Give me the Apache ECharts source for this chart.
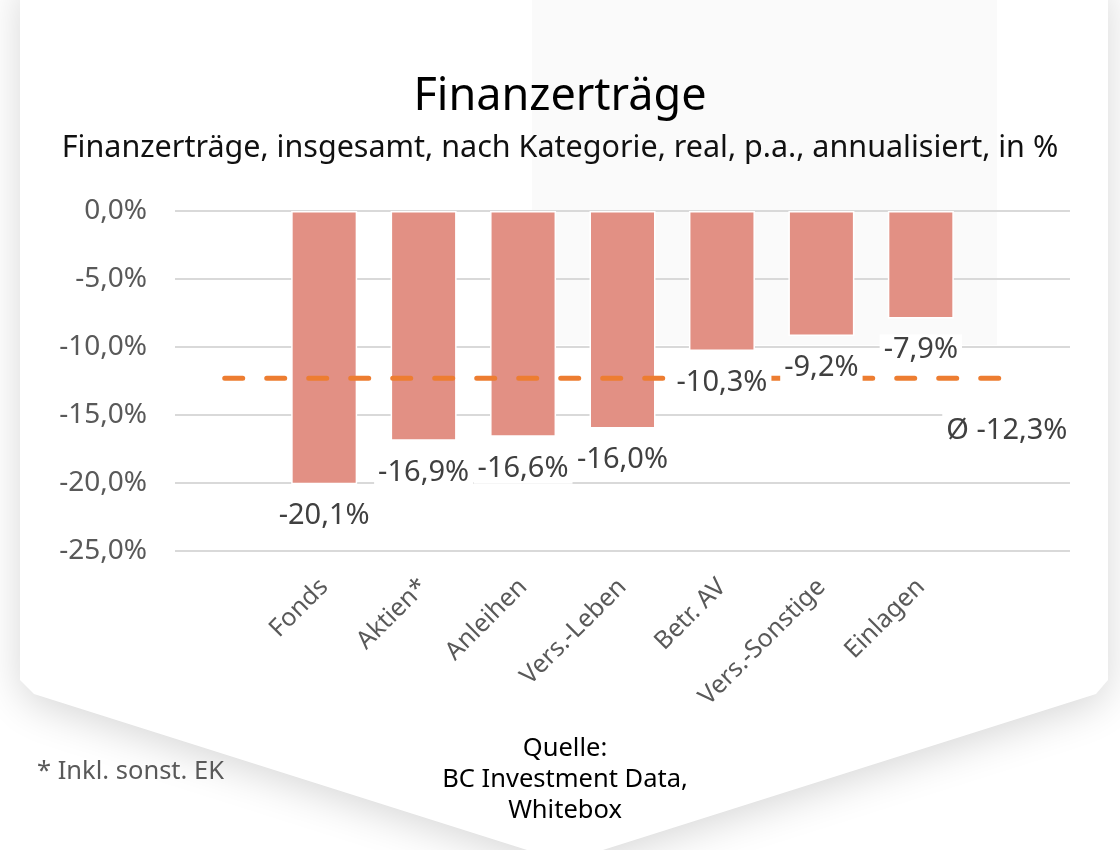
<!DOCTYPE html>
<html>
<head>
<meta charset="utf-8">
<script src="https://cdn.jsdelivr.net/npm/echarts@6/dist/echarts.min.js"></script>
<style>
  html, body { margin: 0; padding: 0; background: #fff; }
  #chart { width: 1120px; height: 850px; }
</style>
</head>
<body>
<div id="chart"></div>
<script>
// empty slots at both ends give the room the reference leaves left and right
const categories = ['', 'Fonds', 'Aktien*', 'Anleihen', 'Vers.-Leben', 'Betr. AV', 'Vers.-Sonstige', 'Einlagen', ''];
const returns = [null, -20.1, -16.9, -16.6, -16.0, -10.3, -9.2, -7.9, null];
const average = -12.3;
const yMin = -25, yMax = 0, yStep = 5;

const FONT = '"Noto Sans", sans-serif';
const pct = v => v.toFixed(1).replace('.', ',') + '%';

const chart = echarts.init(document.getElementById('chart'));

const option = {
  backgroundColor: '#fff',
  textStyle: { fontFamily: FONT },
  title: [
    {
      text: 'Finanzerträge',
      left: 'center', top: 70,
      textStyle: { fontSize: 45, fontWeight: 'normal', color: '#000', fontFamily: FONT }
    },
    {
      text: 'Finanzerträge, insgesamt, nach Kategorie, real, p.a., annualisiert, in %',
      left: 'center', top: 128,
      textStyle: { fontSize: 30.5, fontWeight: 'normal', color: '#111', fontFamily: FONT }
    }
  ],
  grid: { left: 175, right: 50, top: 211, bottom: 299 },
  xAxis: {
    type: 'category',
    data: categories,
    axisLine: { show: false },
    axisTick: { show: false },
    axisLabel: {
      interval: 0, rotate: 45, margin: 32,
      fontSize: 25, color: '#595959', fontFamily: FONT
    }
  },
  yAxis: {
    type: 'value',
    min: yMin, max: yMax, interval: yStep,
    axisLine: { show: false },
    axisTick: { show: false },
    axisLabel: { formatter: pct, fontSize: 28, color: '#595959', margin: 28, fontFamily: FONT },
    splitLine: { lineStyle: { color: '#d9d9d9', width: 2 } }
  },
  series: [
    {
      type: 'bar',
      data: returns,
      barWidth: 66,
      itemStyle: { color: '#E29084', borderColor: '#fff', borderWidth: 1.5 },
      z: 2,
      silent: true
    },
    {
      // Durchschnitt
      type: 'line',
      data: categories.map(() => average),
      symbol: 'none',
      z: 3,
      silent: true,
      lineStyle: { color: '#ED7D31', width: 5, type: [18, 24], cap: 'round' },
      endLabel: {
        show: true,
        formatter: 'Ø ' + pct(average),
        offset: [-86, 52],
        fontSize: 29, color: '#404040', fontFamily: FONT,
        backgroundColor: '#fff', padding: [2, 4]
      }
    },
    {
      // labels sit above the dashed line
      type: 'bar',
      data: returns,
      barWidth: 66,
      barGap: '-100%',
      itemStyle: { color: 'rgba(0,0,0,0)' },
      z: 4,
      silent: true,
      label: {
        show: true,
        position: 'bottom',
        distance: 16,
        formatter: p => pct(p.value),
        fontSize: 29, color: '#404040', fontFamily: FONT,
        backgroundColor: '#fff', padding: [1, 4]
      }
    }
  ],
  graphic: [
    // card background
    {
      type: 'rect', z: -100, silent: true,
      shape: { x: 532, y: 0, width: 465, height: 345 },
      style: { fill: '#fafafa' }
    },
    {
      type: 'polygon', z: -101, silent: true,
      shape: { points: [[20, -20], [1108, -20], [1108, 680], [1096, 694], [565, 862], [34, 694], [20, 680]] },
      style: { fill: '#fff', shadowBlur: 40, shadowColor: 'rgba(0,0,0,0.16)', shadowOffsetY: 8 }
    },
    {
      type: 'text', left: 37, top: 759, silent: true,
      style: { text: '* Inkl. sonst. EK', fontSize: 25.5, fill: '#595959', fontFamily: FONT }
    },
    {
      type: 'text', silent: true,
      x: 565, y: 733,
      style: {
        text: 'Quelle:\nBC Investment Data,\nWhitebox',
        fontSize: 25.5, lineHeight: 31, fill: '#000', align: 'center', fontFamily: FONT
      }
    }
  ]
};

chart.setOption(option);
</script>
</body>
</html>
